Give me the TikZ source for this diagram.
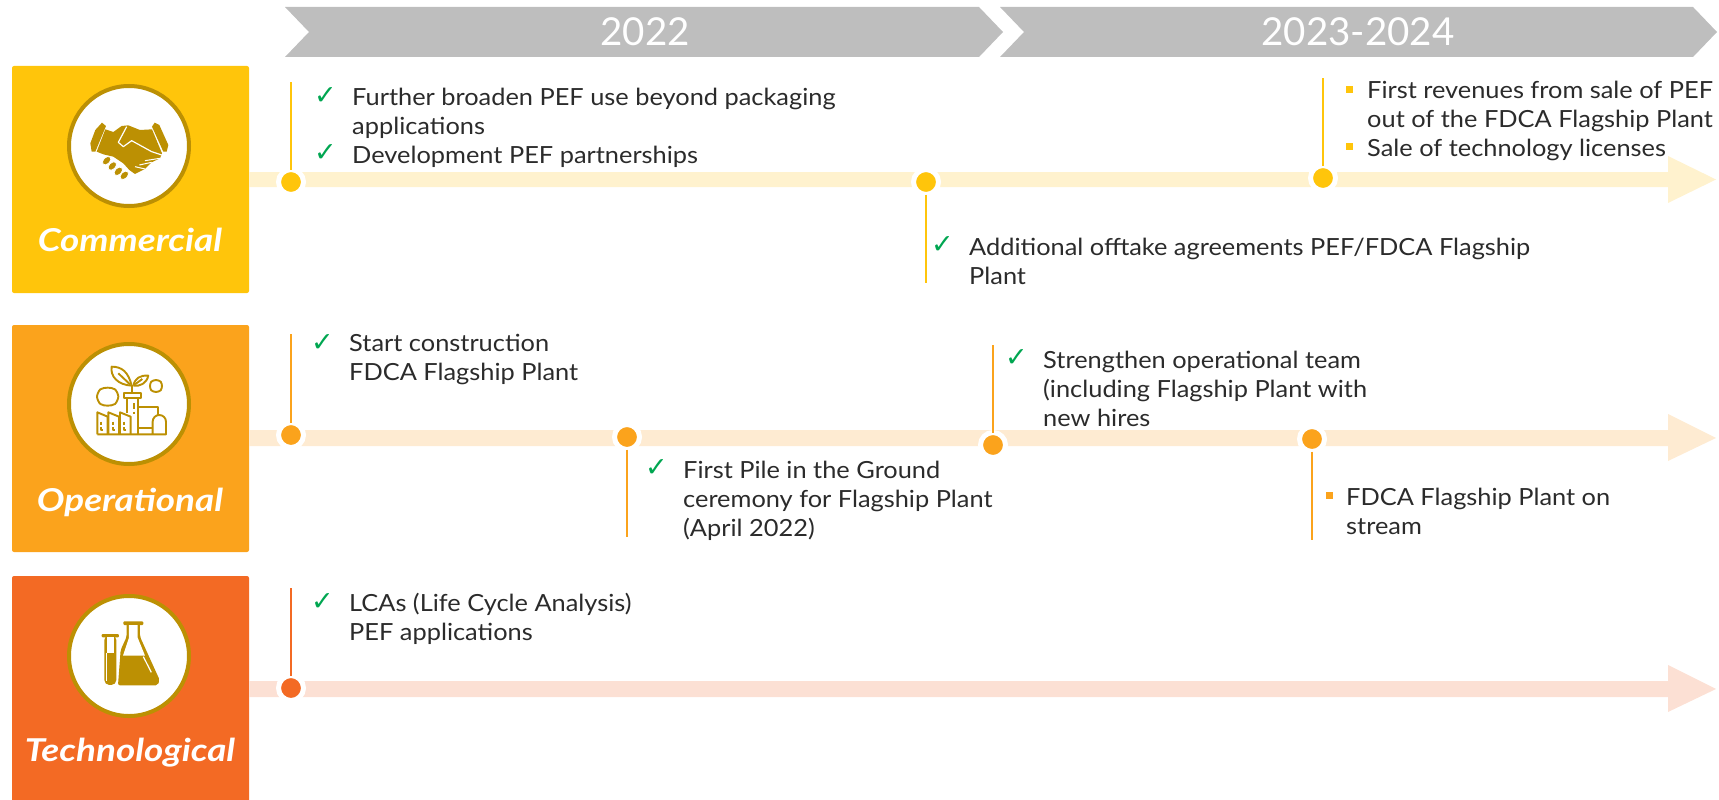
\documentclass[tikz,border=0pt]{standalone}
\usepackage{fontspec}
\setmainfont{Lato}[FakeStretch=1.075]
\newfontfamily\tickfont{DejaVu Sans}
\newfontfamily\yearfont{Lato}
\newfontfamily\titlefont{Lato}[FakeStretch=1.17]
\usetikzlibrary{calc}
\definecolor{comm}{HTML}{FFC50B}
\definecolor{commbar}{HTML}{FFF2CE}
\definecolor{oper}{HTML}{FBA31C}
\definecolor{operbar}{HTML}{FEEBD2}
\definecolor{tech}{HTML}{F36A24}
\definecolor{techbar}{HTML}{FCE0D4}
\definecolor{gold}{HTML}{BC9003}
\definecolor{chevron}{HTML}{BEBEBE}
\definecolor{ink}{HTML}{2B2B2B}
\definecolor{tickgreen}{HTML}{00A651}
\tikzset{
  txt/.style={anchor=base west,align=left,inner sep=0pt,text=ink,font=\fontsize{23.6}{28.7}\selectfont},
  year/.style={inner sep=0pt,text=white,font=\yearfont\fontsize{38.5}{39}\selectfont},
  title/.style={anchor=base,inner sep=0pt,text=white,font=\titlefont\fontsize{31.5}{32}\selectfont\bfseries\itshape},
  tick/.style={anchor=base west,inner sep=0pt,text=tickgreen,font=\tickfont\fontsize{27}{27}\selectfont},
  bullet/.style={rectangle,minimum size=7pt,inner sep=0pt,outer sep=0pt},
  dot/.style={circle,fill=#1,draw=white,line width=5pt,minimum size=25pt,inner sep=0pt,outer sep=0pt},
  stem/.style={line width=2.8pt},
  badge/.style={circle,fill=white,draw=gold,line width=4pt,minimum size=120pt,inner sep=0pt}
}
\begin{document}
\begin{tikzpicture}[x=1pt,y=-1pt]
\useasboundingbox (0,0) rectangle (1719,800);

% year chevrons
\fill [chevron] (285,7)--(979,7)--(1003,32)--(979,57)--(285,57)--(309,32)--cycle;
\fill [chevron] (1000,7)--(1693,7)--(1717,32)--(1693,57)--(1000,57)--(1024,32)--cycle;
\node (y_a) [year] at (645,32) {2022};
\node (y_b) [year] at (1358,32) {2023-2024};

% boxes
\fill [comm,rounded corners=2pt] (12,66) rectangle (249,293);
\fill [oper,rounded corners=2pt] (12,325) rectangle (249,552);
\fill [tech,rounded corners=2pt] (12,576) rectangle (249,820);

% arrows
\fill [commbar] (249,172)--(1668,172)--(1668,156)--(1716,179.5)--(1668,203)--(1668,187)--(249,187)--cycle;
\fill [operbar] (249,430)--(1668,430)--(1668,414)--(1716,438)--(1668,461)--(1668,446)--(249,446)--cycle;
\fill [techbar] (249,681)--(1668,681)--(1668,665)--(1716,689)--(1668,712)--(1668,697)--(249,697)--cycle;

\node (b_c) [badge] at (129,146) {};
\node (b_o) [badge] at (129,404) {};
\node (b_t) [badge] at (129,656) {};
\node (t_c) [title] at (130,251) {Commercial};
\node (t_o) [title] at (130,511) {Operational};
\node (t_t) [title] at (130,761) {Technological};

% handshake
\begin{scope}[shift={(80,110)},x=.3333pt,y=-.3333pt]
\fill [gold] (66,38)--(78,48)--(46,125)--(35,125)--(31,100)--(46,60)--cycle;
\fill [gold] (224,38)--(238,45)--(265,105)--(260,125)--(250,125)--(216,50)--cycle;
\fill [gold] (76,58)--(100,66)--(125,48)--(145,46)--(180,60)--(216,58)--(246,130)--(240,145)--(215,157)--(195,177)--(165,192)--(148,180)--(130,160)--(100,140)--(70,133)--(50,125)--cycle;
\draw [white,line width=1.2pt,line join=round] (140,50)--(115,97)--(130,110)--(155,92)--(215,125)--(245,135);
\draw [white,line width=1pt] (240,145)--(195,152) (215,157)--(178,165) (195,177)--(165,170);
\foreach \px/\py in {80/152,97/168,115/184,133/196}
  \fill [gold,rotate around={45:(\px,\py)},draw=white,line width=.8pt] (\px,\py) ellipse [x radius=15,y radius=10];
\end{scope}

% factory
\begin{scope}[shift={(85,355)},x=.3333pt,y=-.3333pt,gold,line width=1.9pt,line join=round]
\draw (37,238)--(37,172)--(68,185)--(68,238);
\draw (70,238)--(70,172)--(102,185)--(102,238);
\draw (105,238)--(105,172)--(137,185)--(137,238);
\draw (37,238)--(243,238)--(243,200) arc [start angle=0,end angle=-180,radius=20]--(203,238);
\draw (117,115) rectangle (167,130);
\draw (125,130)--(125,175) (160,130)--(160,238);
\draw (160,155)--(220,155)--(220,180);
\draw (160,218)--(203,218);
\draw (147,145)--(147,163) (147,170)--(147,178);
\foreach \px/\py in {48/200,83/200,118/200}
  \draw (\px,\py)--(\px,\py+9) (\px+6,\py+24)--(\px,\py+24)--(\px,\py+15);
\draw (140,115)--(140,90);
\draw (140,92) .. controls (130,50) and (110,35) .. (80,35) .. controls (75,65) and (100,90) .. (140,92);
\draw (100,55)--(135,88);
\draw (145,92) .. controls (150,70) and (165,60) .. (190,62) .. controls (185,85) and (165,95) .. (145,92);
\draw (150,88)--(172,72);
\draw plot [smooth cycle] coordinates {(68,98) (90,103) (100,125) (90,147) (68,152) (46,147) (36,125) (46,103)};
\draw plot [smooth cycle] coordinates {(213,75) (227,80) (231,93) (227,106) (213,111) (199,106) (195,93) (199,80)};
\end{scope}

% flasks
\begin{scope}[shift={(90,615)},x=.3333pt,y=-.3333pt]
\fill [gold,rounded corners=1pt] (35,57) rectangle (87,67);
\fill [gold,rounded corners=5pt] (43,60) rectangle (79,210);
\fill [white] (50,67) rectangle (72,115);
\draw [white,line width=1pt] (50,115)--(50,197);
\fill [gold,rounded corners=1pt] (100,19) rectangle (160,30);
\fill [gold,rounded corners=2pt] (110,25)--(150,25)--(150,65)--(209,195)--(203,211)--(84,211)--(92,105)--(110,65)--cycle;
\fill [white] (117,30)--(143,30)--(143,68)--(165,122)--(99,122)--(117,68)--cycle;
\draw [white,line width=1.2pt] (160,125)--(184,172);
\end{scope}

% commercial
\node (d_c1) [dot=comm] at (291,182) {};
\node (d_c2) [dot=comm] at (926,182) {};
\node (d_c3) [dot=comm] at (1323,178) {};
\coordinate (e_c1) at (291,82);
\coordinate (e_c2) at (926,283);
\coordinate (e_c3) at (1323,78);
\draw [stem,comm] (d_c1)--(e_c1);
\draw [stem,comm] (d_c2)--(e_c2);
\draw [stem,comm] (d_c3)--(e_c3);

% operational
\node (d_o1) [dot=oper] at (291,435) {};
\node (d_o2) [dot=oper] at (627,437) {};
\node (d_o3) [dot=oper] at (993,445) {};
\node (d_o4) [dot=oper] at (1312,439) {};
\coordinate (e_o1) at (291,334);
\coordinate (e_o2) at (627,537);
\coordinate (e_o3) at (993,345);
\coordinate (e_o4) at (1312,540);
\draw [stem,oper] (d_o1)--(e_o1);
\draw [stem,oper] (d_o2)--(e_o2);
\draw [stem,oper] (d_o3)--(e_o3);
\draw [stem,oper] (d_o4)--(e_o4);

% technological
\node (d_t1) [dot=tech] at (291,688) {};
\coordinate (e_t1) at (291,588);
\draw [stem,tech] (d_t1)--(e_t1);

% texts
\node (l_a) [txt] at (352,163) {Further broaden PEF use beyond packaging\\applications\\Development PEF partnerships};
\node (l_b) [txt] at (969,284) {Additional offtake agreements PEF/FDCA Flagship\\Plant};
\node (l_c) [txt] at (1367,156) {First revenues from sale of PEF\\out of the FDCA Flagship Plant\\Sale of technology licenses};
\node (l_d) [txt] at (349,380) {Start construction\\FDCA Flagship Plant};
\node (l_e) [txt] at (683,536) {First Pile in the Ground\\ceremony for Flagship Plant\\(April 2022)};
\node (l_f) [txt] at (1043,426) {Strengthen operational team\\(including Flagship Plant with\\new hires};
\node (l_g) [txt] at (1346,534) {FDCA Flagship Plant on\\stream};
\node (l_h) [txt] at (349,640) {LCAs (Life Cycle Analysis)\\PEF applications};

\node (k_a1) [tick] at (314,104) {✓};
\node (k_a2) [tick] at (314,161) {✓};
\node (k_b) [tick] at (931,253) {✓};
\node (k_d) [tick] at (311,351) {✓};
\node (k_e) [tick] at (645,476) {✓};
\node (k_f) [tick] at (1005,366) {✓};
\node (k_h) [tick] at (311,610) {✓};
\node (s_c1) [bullet,fill=comm] at (1349.5,89.5) {};
\node (s_c2) [bullet,fill=comm] at (1349.5,146.5) {};
\node (s_g) [bullet,fill=oper] at (1329.5,495.5) {};
\end{tikzpicture}
\end{document}
